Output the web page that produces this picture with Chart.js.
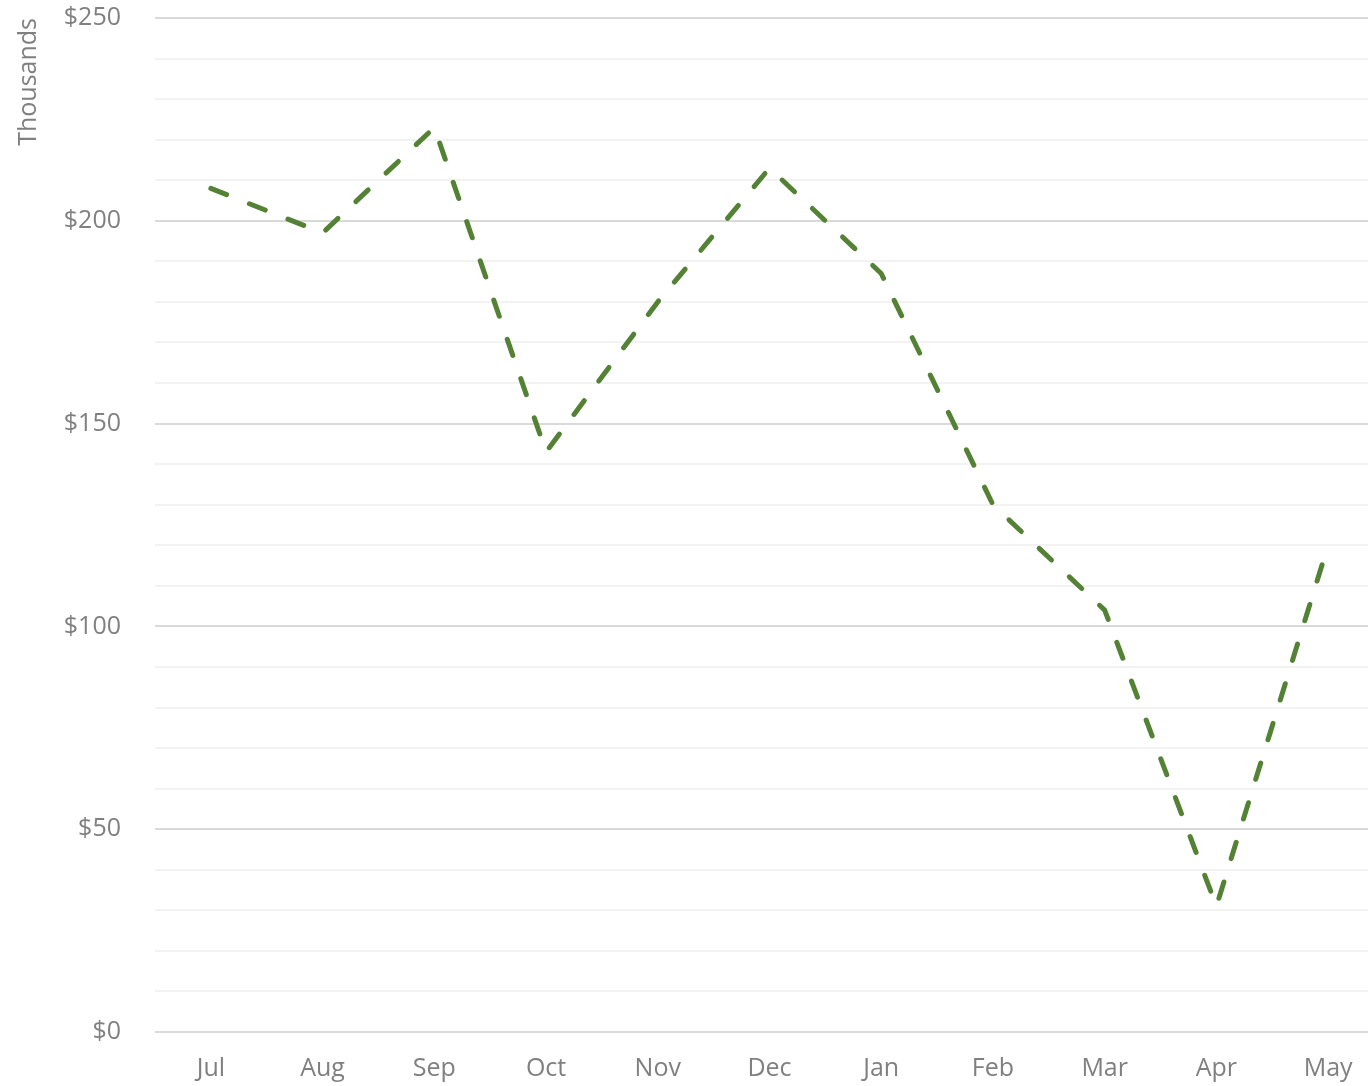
<!DOCTYPE html>
<html>
<head>
<meta charset="utf-8">
<script src="https://cdn.jsdelivr.net/npm/chart.js@4/dist/chart.umd.min.js"></script>
<style>
  html, body { margin: 0; padding: 0; background: #fff; overflow: hidden; }
  #wrap { position: relative; top: -31px; width: 1384px; height: 1117px; }
</style>
</head>
<body>
<div id="wrap"><canvas id="lineChart"></canvas></div>
<script>
// months and values (thousands of dollars)
var months = ["Jul", "Aug", "Sep", "Oct", "Nov", "Dec", "Jan", "Feb", "Mar", "Apr", "May"];
var amounts = [208, 197, 223, 143, 180, 213, 187, 130, 104, 31, 120];
var yTicks = [0, 50, 100, 150, 200, 250];

var gray = '#808080';
var font = { family: "'Open Sans', 'Liberation Sans', sans-serif", size: 25 };

var ctxL = document.getElementById("lineChart").getContext('2d');
var myLineChart = new Chart(ctxL, {
  type: 'line',
  data: {
    labels: months,
    datasets: [{
      label: "Amount",
      data: amounts,
      borderColor: '#548235',
      borderWidth: 5,
      borderDash: [17, 24.5],
      borderCapStyle: 'round',
      borderJoinStyle: 'round',
      pointRadius: 0,
      tension: 0,
      fill: false
    }]
  },
  options: {
    responsive: true,
    maintainAspectRatio: false,
    animation: false,
    layout: { padding: 0 },
    plugins: {
      legend: { display: false },
      tooltip: { enabled: false }
    },
    scales: {
      x: {
        offset: true,
        grid: { display: false, drawTicks: false },
        border: { display: false },
        ticks: { color: gray, font: font, padding: 22, maxRotation: 0 },
        afterFit: function (s) { s.height = 54; }
      },
      y: {
        min: 0,
        max: 250,
        border: { display: false },
        grid: {
          drawTicks: false,
          lineWidth: 2,
          color: function (c) {
            return yTicks.indexOf(c.tick.value) >= 0 ? '#d9d9d9' : '#f2f2f2';
          }
        },
        ticks: {
          stepSize: 10,
          color: gray,
          font: font,
          padding: 34,
          autoSkip: false,
          callback: function (v) {
            return yTicks.indexOf(v) >= 0 ? '$' + v : '';
          }
        },
        title: {
          display: true,
          text: 'Thousands',
          align: 'end',
          color: gray,
          font: { family: font.family, size: 25 },
          padding: { top: 14, bottom: 0 }
        },
        afterFit: function (s) { s.width = 155; }
      }
    }
  }
});
</script>
</body>
</html>
